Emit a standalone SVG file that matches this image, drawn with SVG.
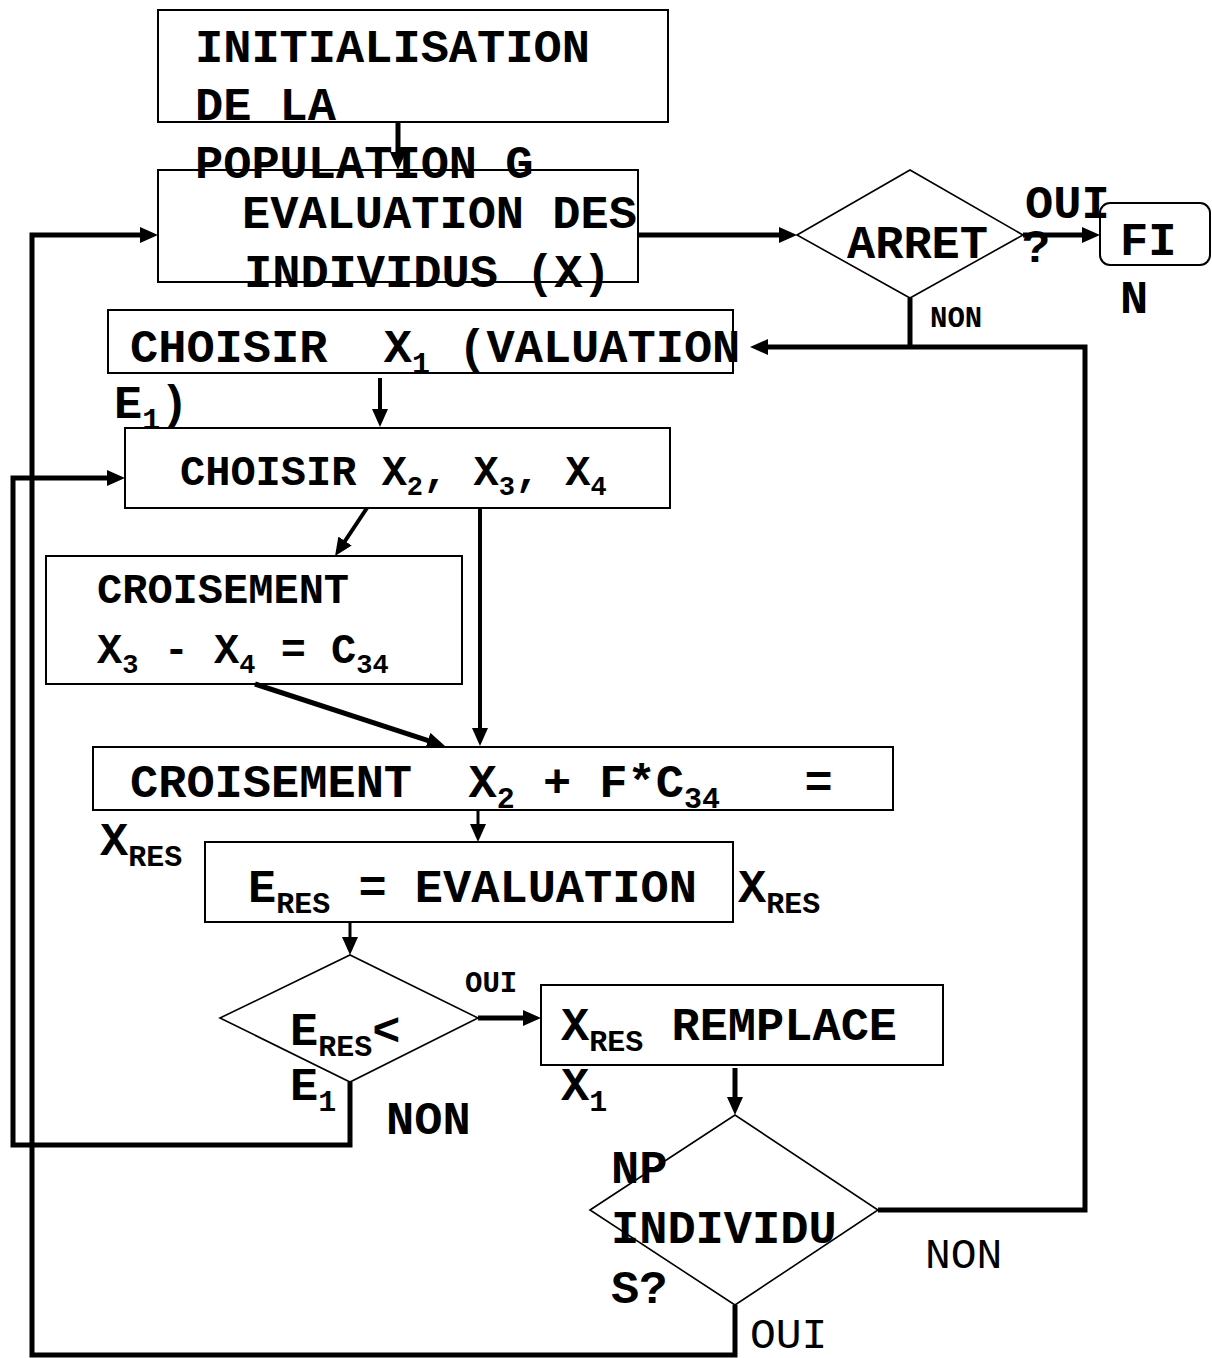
<svg xmlns="http://www.w3.org/2000/svg" width="1212" height="1358" viewBox="0 0 1212 1358">
<style>
text { font-family: "Liberation Mono", "Courier New", monospace; font-weight: bold; fill: #000; white-space: pre; }
.big { font-size: 47px; }
.mid { font-size: 42px; }
.sm { font-size: 29px; }
.reg { font-weight: normal; font-size: 43px; }
.sub { font-size: 30px; }
.subm { font-size: 27px; }
.box { fill: none; stroke: #000; stroke-width: 2; }
.dia { fill: none; stroke: #000; stroke-width: 1.6; }
.c { fill: none; stroke: #000; stroke-linejoin: miter; }
.w5 { stroke-width: 5; }
.w4 { stroke-width: 4; }
.w3 { stroke-width: 3; }
.arr { marker-end: url(#ah); }
</style>
<defs>
<marker id="ah" markerUnits="userSpaceOnUse" markerWidth="18" markerHeight="16" refX="6" refY="8" orient="auto">
<path d="M0,0 L18,8 L0,16 z" fill="#000"/>
</marker>
</defs>
<rect width="1212" height="1358" fill="#fff"/>

<g id="init">
<rect class="box" x="158" y="10" width="510" height="112"/>
<text class="big" x="195" y="62">INITIALISATION</text>
<text class="big" x="195" y="120">DE LA</text>
<text class="big" x="195" y="178">POPULATION G</text>
</g>

<g id="eval">
<rect class="box" x="158" y="170" width="480" height="112"/>
<text class="big" x="242" y="228">EVALUATION DES</text>
<text class="big" x="244" y="287">INDIVIDUS (X)</text>
</g>

<g id="arret">
<polygon class="dia" points="797,235 910,170 1023,235 910,298"/>
<text class="big" x="847" y="258">ARRET</text>
<text class="big" x="1022" y="262">?</text>
</g>

<g id="fin">
<rect class="box" x="1100" y="203" width="110" height="62" rx="10"/>
<text class="big" x="1120" y="255">FI</text>
<text class="big" x="1120" y="313">N</text>
</g>

<g id="choisir1">
<rect class="box" x="108" y="310" width="625" height="63"/>
<text class="big" x="130" y="362">CHOISIR  X<tspan class="sub" dy="11">1</tspan><tspan dy="-11"> (VALUATION</tspan></text>
<text class="big" x="114" y="418">E<tspan class="sub" dy="11">1</tspan><tspan dy="-11">)</tspan></text>
</g>

<g id="choisir2">
<rect class="box" x="125" y="428" width="545" height="80"/>
<text class="mid" x="180" y="485">CHOISIR X<tspan class="subm" dy="10">2</tspan><tspan dy="-10">, X</tspan><tspan class="subm" dy="10">3</tspan><tspan dy="-10">, X</tspan><tspan class="subm" dy="10">4</tspan></text>
</g>

<g id="croisement1">
<rect class="box" x="46" y="556" width="416" height="128"/>
<text class="mid" x="97" y="603">CROISEMENT</text>
<text class="mid" x="97" y="663">X<tspan class="subm" dy="10">3</tspan><tspan dy="-10"> - X</tspan><tspan class="subm" dy="10">4</tspan><tspan dy="-10"> = C</tspan><tspan class="subm" dy="10">34</tspan></text>
</g>

<g id="croisement2">
<rect class="box" x="93" y="747" width="800" height="63"/>
<text class="big" x="130" y="797">CROISEMENT  X<tspan class="sub" dy="11">2</tspan><tspan dy="-11"> + F*C</tspan><tspan class="sub" dy="11">34</tspan><tspan dy="-11">   =</tspan></text>
<text class="big" x="100" y="855">X<tspan class="sub" dy="11">RES</tspan></text>
</g>

<g id="evaluation-res">
<rect class="box" x="205" y="842" width="528" height="80"/>
<text class="big" x="248" y="902">E<tspan class="sub" dy="11">RES</tspan><tspan dy="-11"> = EVALUATION</tspan><tspan x="738">X</tspan><tspan class="sub" dy="11">RES</tspan></text>
</g>

<g id="test-eres">
<polygon class="dia" points="220,1018 350,955 478,1018 350,1082"/>
<text class="big" x="290" y="1045">E<tspan class="sub" dy="11">RES</tspan><tspan dy="-11">&lt;</tspan></text>
<text class="big" x="290" y="1100">E<tspan class="sub" dy="11">1</tspan></text>
</g>

<g id="remplace">
<rect class="box" x="541" y="985" width="402" height="80"/>
<text class="big" x="561" y="1040">X<tspan class="sub" dy="11">RES</tspan><tspan dy="-11"> REMPLACE</tspan></text>
<text class="big" x="561" y="1100">X<tspan class="sub" dy="11">1</tspan></text>
</g>

<g id="np">
<polygon class="dia" points="590,1210 735,1115 878,1210 735,1305"/>
<text class="big" x="611" y="1183">NP</text>
<text class="big" x="611" y="1243">INDIVIDU</text>
<text class="big" x="611" y="1303">S?</text>
</g>

<g id="connectors">
<line class="c w5 arr" x1="398" y1="122" x2="398" y2="158"/>
<line class="c w5 arr" x1="638" y1="235" x2="785" y2="235"/>
<line class="c w5 arr" x1="1023" y1="235" x2="1088" y2="235"/>
<polyline class="c w5" points="910,298 910,347"/>
<polyline class="c w5 arr" points="878,1210 1085,1210 1085,347 762,347"/>
<line class="c w4 arr" x1="380" y1="378" x2="380" y2="415"/>
<line class="c w4 arr" x1="367" y1="508" x2="341.7" y2="546"/>
<line class="c w4 arr" x1="480" y1="508" x2="480" y2="734"/>
<line class="c w5 arr" x1="255" y1="684" x2="433.6" y2="742.3"/>
<line class="c w3 arr" x1="478" y1="810" x2="478" y2="830"/>
<line class="c w3 arr" x1="350" y1="922" x2="350" y2="943"/>
<line class="c w5 arr" x1="478" y1="1018" x2="529" y2="1018"/>
<line class="c w5 arr" x1="735" y1="1068" x2="735" y2="1103"/>
<polyline class="c w5 arr" points="350,1082 350,1145 13,1145 13,478 113,478"/>
<polyline class="c w5 arr" points="735,1305 735,1355 32,1355 32,235 146,235"/>
<text class="big" x="1025" y="218">OUI</text>
<text class="sm" x="930" y="327">NON</text>
<text class="sm" x="465" y="992">OUI</text>
<text class="big" x="386" y="1134">NON</text>
<text class="reg" x="925" y="1268">NON</text>
<text class="reg" x="750" y="1348">OUI</text>
</g>
</svg>
